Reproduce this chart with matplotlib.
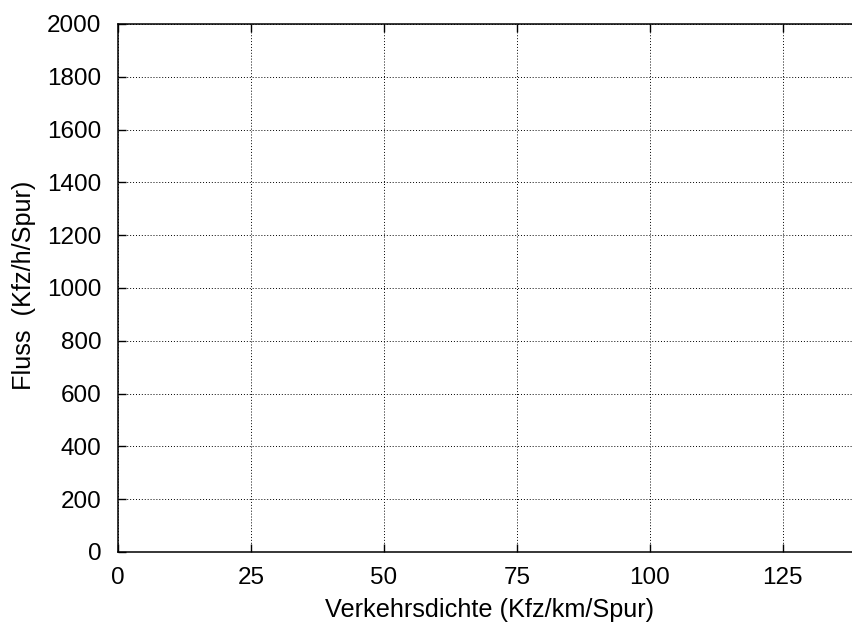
import matplotlib
matplotlib.use("Agg")
import matplotlib.pyplot as plt

plt.rcParams['font.family'] = ['Liberation Sans', 'DejaVu Sans']

# empty fundamental diagram: only axes, no data
x_ticks = [0, 25, 50, 75, 100, 125]
y_ticks = [0, 200, 400, 600, 800, 1000, 1200, 1400, 1600, 1800, 2000]
x_range = (0, 138)
y_range = (0, 2000)

fig = plt.figure(figsize=(8.52, 6.28), dpi=100)
ax = fig.add_axes([118 / 852, 76 / 628, 1 - 118 / 852, 528 / 628])

ax.set_xlim(*x_range)
ax.set_ylim(*y_range)
ax.set_xticks(x_ticks)
ax.set_yticks(y_ticks)

ax.grid(True, color='black', linestyle=(0, (1, 2)), linewidth=0.7)
ax.set_axisbelow(True)

for side in ['left', 'bottom', 'top']:
    ax.spines[side].set_linewidth(1.1)
ax.spines['right'].set_visible(False)

ax.tick_params(axis='both', direction='in', length=6, width=1,
               labelsize=17.5, top=True, right=False)
ax.tick_params(axis='x', pad=11)
ax.tick_params(axis='y', pad=12)

ax.set_xlabel("Verkehrsdichte (Kfz/km/Spur)", fontsize=18.2, labelpad=6)
ax.set_ylabel("Fluss  (Kfz/h/Spur)", fontsize=18.2, labelpad=8)
ax.xaxis.label.set_x(0.506)
ax.yaxis.label.set_y(0.506)

fig.savefig("out.png", dpi=100)
